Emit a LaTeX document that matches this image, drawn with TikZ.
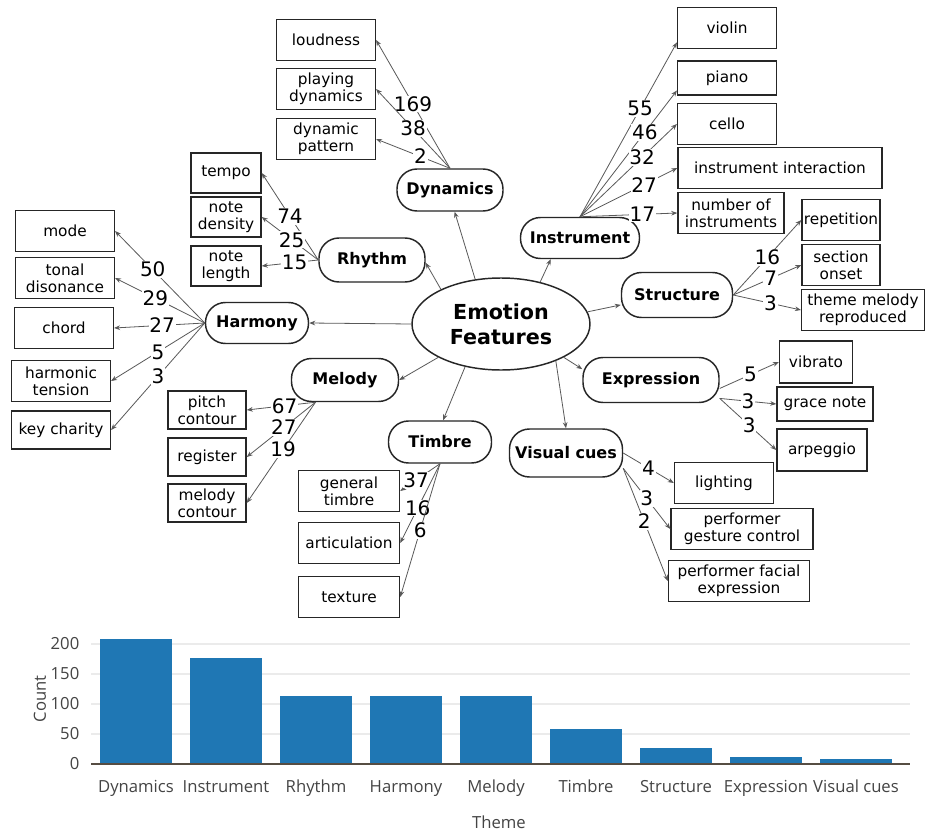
\documentclass[tikz,border=0pt]{standalone}
\usepackage{fontspec}
\setmainfont{DejaVu Sans}
\newfontfamily\plotfont{Open Sans}
\usepackage{tikz}
\usetikzlibrary{arrows.meta,shapes.geometric}
\definecolor{barblue}{HTML}{1F77B4}
\definecolor{plotgrey}{HTML}{444444}

\begin{document}
\begin{tikzpicture}[x=0.75pt,y=-0.75pt,
  leaf/.style={draw=black!85,line width=1.1pt,inner sep=0pt,align=center,minimum height=31pt,font=\fontsize{11.5}{12.8}\selectfont},
  topic/.style={draw=black!85,line width=1.1pt,rounded corners=15pt,inner sep=0pt,font=\fontsize{12}{14}\selectfont\bfseries},
  link/.style={draw=black!65,line width=0.6pt,-{Stealth[length=4.5pt,width=3.5pt]}},
  num/.style={fill=white,inner sep=0.6pt,font=\fontsize{15}{15}\selectfont}]
  \useasboundingbox (0,0) rectangle (925,835);
  \fill[white] (0,0) rectangle (925,835);

  % centre and themes
  \node[ellipse,draw=black!85,line width=1.1pt,minimum width=133.5pt,minimum height=69pt,inner sep=0pt,align=center,font=\fontsize{15.5}{18.75}\selectfont\bfseries] (emo) at (501,324) {Emotion\\Features};
  \node[topic,minimum width=79.5pt,minimum height=31.5pt] (dyn) at (450,190) {Dynamics};
  \node[topic,minimum width=79.5pt,minimum height=33pt] (rhy) at (372,260) {Rhythm};
  \node[topic,minimum width=89.25pt,minimum height=30.75pt] (ins) at (580,238) {Instrument};
  \node[topic,minimum width=83.25pt,minimum height=33.75pt] (str) at (677,295) {Structure};
  \node[topic,minimum width=77.25pt,minimum height=30.75pt] (har) at (257,323) {Harmony};
  \node[topic,minimum width=80.25pt,minimum height=32.25pt] (mel) at (345,380) {Melody};
  \node[topic,minimum width=102pt,minimum height=33.75pt] (exp) at (651,380) {Expression};
  \node[topic,minimum width=77.25pt,minimum height=31.5pt] (tim) at (440,442) {Timbre};
  \node[topic,minimum width=84.75pt,minimum height=36pt] (vis) at (566,453) {Visual cues};

  % leaves
  \node[leaf,minimum width=74pt] (loud) at (326,40) {loudness};
  \node[leaf,minimum width=74pt] (pdyn) at (326,89) {playing\\dynamics};
  \node[leaf,minimum width=74pt] (dpat) at (326,139) {dynamic\\pattern};
  \node[leaf,minimum width=52.5pt,minimum height=30pt] (tempo) at (226,173) {tempo};
  \node[leaf,minimum width=52.5pt,minimum height=30pt] (dens) at (226,217) {note\\density};
  \node[leaf,minimum width=52.5pt,minimum height=30pt] (nlen) at (226,266) {note\\length};
  \node[leaf,minimum width=74pt] (violin) at (727,28) {violin};
  \node[leaf,minimum width=74pt,minimum height=25.5pt] (piano) at (727,78) {piano};
  \node[leaf,minimum width=74pt] (cello) at (727,124) {cello};
  \node[leaf,minimum width=153pt] (inter) at (780,168) {instrument interaction};
  \node[leaf,minimum width=79.5pt] (ninst) at (731,213) {number of\\instruments};
  \node[leaf,minimum width=58.5pt] (rep) at (841,220) {repetition};
  \node[leaf,minimum width=58.5pt] (onset) at (841,265) {section\\onset};
  \node[leaf,minimum width=92pt] (tmr) at (863,310) {theme melody\\reproduced};
  \node[leaf,minimum width=74pt] (mode) at (65,231) {mode};
  \node[leaf,minimum width=74pt] (tdis) at (65,278) {tonal\\disonance};
  \node[leaf,minimum width=74pt] (chord) at (64,328) {chord};
  \node[leaf,minimum width=74pt] (htens) at (61,381) {harmonic\\tension};
  \node[leaf,minimum width=74pt,minimum height=28.5pt] (keyc) at (61,430) {key charity};
  \node[leaf,minimum width=58.5pt,minimum height=28.5pt] (pcont) at (207,410) {pitch\\contour};
  \node[leaf,minimum width=58.5pt,minimum height=28.5pt] (reg) at (207,457) {register};
  \node[leaf,minimum width=58.5pt,minimum height=28.5pt] (mcont) at (207,503) {melody\\contour};
  \node[leaf,minimum width=75.75pt] (gtimb) at (349,491) {general\\timbre};
  \node[leaf,minimum width=75.75pt] (artic) at (349,543) {articulation};
  \node[leaf,minimum width=75.75pt] (textu) at (349,597) {texture};
  \node[leaf,minimum width=74.25pt] (light) at (724,483) {lighting};
  \node[leaf,minimum width=106.5pt] (gest) at (742,529) {performer\\gesture control};
  \node[leaf,minimum width=105.75pt] (facial) at (739,581) {performer facial\\expression};
  \node[leaf,minimum width=54.75pt,minimum height=31.5pt] (vib) at (816,362) {vibrato};
  \node[leaf,minimum width=72pt,minimum height=25.5pt] (grace) at (825,404) {grace note};
  \node[leaf,minimum width=67.5pt,minimum height=31.5pt] (arp) at (822,450) {arpeggio};

  % centre to themes
  \draw[link] (emo.120) -- (dyn.-78);
  \draw[link] (emo.150) -- (rhy.-3);
  \draw[link] (emo.47) -- (ins.216);
  \draw[link] (emo.8) -- (str.190);
  \draw[link] (emo.west) -- (har.east);
  \draw[link] (emo.208) -- (mel.east);
  \draw[link] (emo.230) -- (tim.82);
  \draw[link] (emo.326) -- (vis.north);
  \draw[link] (emo.332) -- (exp.171);

  % themes to leaves
  \draw[link] (dyn.north) -- node[num,pos=0.5]{169} (loud.east);
  \draw[link] (dyn.north) -- node[num,pos=0.5]{38} (pdyn.east);
  \draw[link] (dyn.north) -- node[num,pos=0.4]{2} (dpat.east);
  \draw[link] (rhy.west) -- node[num,pos=0.5]{74} (tempo.east);
  \draw[link] (rhy.west) -- node[num,pos=0.47]{25} (dens.east);
  \draw[link] (rhy.west) -- node[num,pos=0.42]{15} (nlen.east);
  \draw[link] (ins.north) -- node[num,pos=0.62]{55} (violin.196);
  \draw[link] (ins.north) -- node[num,pos=0.67]{46} (piano.194);
  \draw[link] (ins.north) -- node[num,pos=0.64]{32} (cello.west);
  \draw[link] (ins.north) -- node[num,pos=0.66]{27} (inter.west);
  \draw[link] (ins.north) -- node[num,pos=0.64]{17} (ninst.west);
  \draw[link] (str.east) -- node[num,pos=0.5]{16} (rep.west);
  \draw[link] (str.east) -- node[num,pos=0.55]{7} (onset.west);
  \draw[link] (str.east) -- node[num,pos=0.55]{3} (tmr.west);
  \draw[link] (har.west) -- node[num,pos=0.58]{50} (mode.east);
  \draw[link] (har.west) -- node[num,pos=0.55]{29} (tdis.east);
  \draw[link] (har.west) -- node[num,pos=0.47]{27} (chord.east);
  \draw[link] (har.west) -- node[num,pos=0.5]{5} (htens.east);
  \draw[link] (har.west) -- node[num,pos=0.5]{3} (keyc.east);
  \draw[link] (mel.217) -- node[num,pos=0.45]{67} (pcont.east);
  \draw[link] (mel.217) -- node[num,pos=0.46]{27} (reg.east);
  \draw[link] (mel.217) -- node[num,pos=0.47]{19} (mcont.east);
  \draw[link] (tim.south) -- node[num,pos=0.6]{37} (gtimb.east);
  \draw[link] (tim.south) -- node[num,pos=0.56]{16} (artic.east);
  \draw[link] (tim.south) -- node[num,pos=0.5]{6} (textu.east);
  \draw[link] (vis.east) -- node[num,pos=0.5]{4} (light.west);
  \draw[link] (vis.345) -- node[num,pos=0.5]{3} (gest.west);
  \draw[link] (vis.345) -- node[num,pos=0.47]{2} (facial.west);
  \draw[link] (exp.-7) -- node[num,pos=0.52]{5} (vib.west);
  \draw[link] (exp.-15) -- node[num,pos=0.5]{3} (grace.west);
  \draw[link] (exp.-15) -- node[num,pos=0.52]{3} (arp.west);

  % bar chart
  \begin{scope}[font=\plotfont\fontsize{12.5}{14}\selectfont,text=plotgrey]
    \foreach \t in {50,100,150,200}
      \draw[black!8,line width=0.8pt] (91,{764-0.6*\t}) -- (910,{764-0.6*\t});
    \foreach \t in {0,50,...,200}
      \node[anchor=east] (tick\t) at (84,{764-0.6*\t}) {\t};
    \foreach \v/\lab [count=\k from 0] in {209/Dynamics,177/Instrument,114/Rhythm,114/Harmony,113/Melody,59/Timbre,26/Structure,11/Expression,9/Visual cues} {
      \fill[barblue] ({100+90*\k},764) rectangle ({172+90*\k},{764-0.6*\v});
      \node[anchor=base] (bar\k) at ({136+90*\k},792) {\lab};
    }
    \draw[plotgrey!85!brown,line width=1pt] (91,764) -- (910,764);
    \node[rotate=90] (ylab) at (40,699) {Count};
    \node[anchor=base] (xlab) at (499,828) {Theme};
  \end{scope}
\end{tikzpicture}
\end{document}
